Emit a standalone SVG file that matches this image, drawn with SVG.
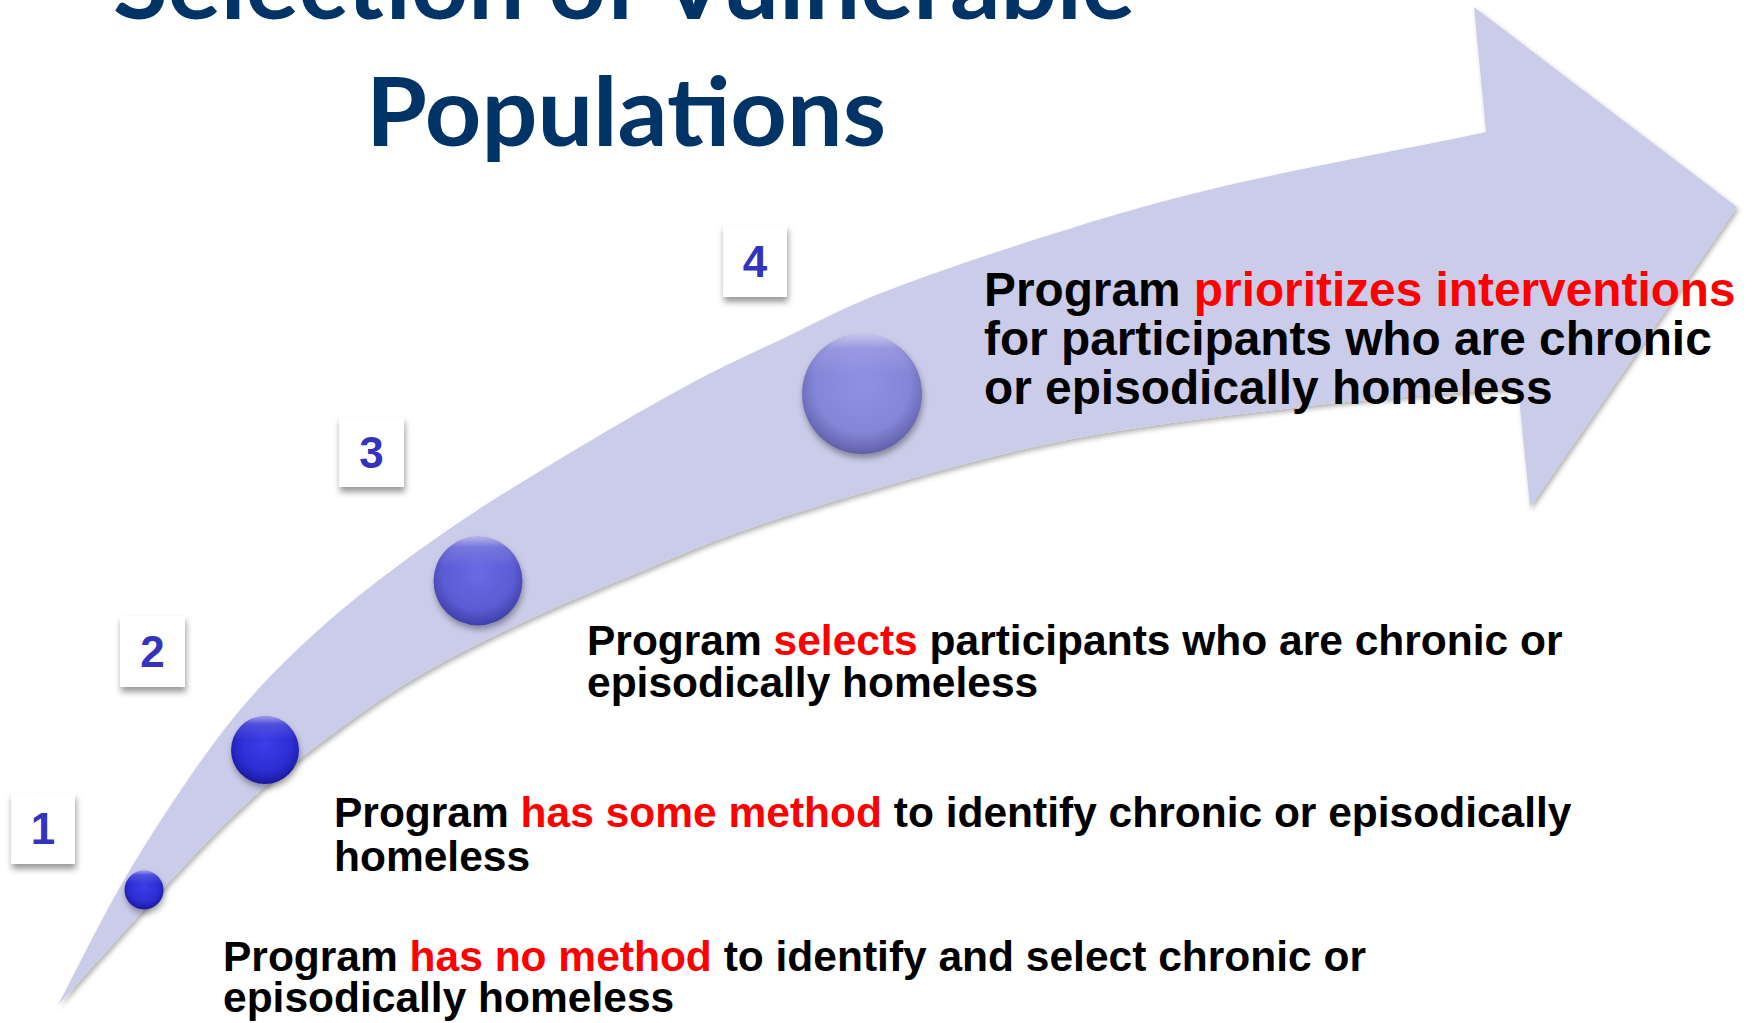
<svg xmlns="http://www.w3.org/2000/svg" width="1754" height="1023" viewBox="0 0 1754 1023">
<defs>
<style>
.title{font-family:Lato,"Open Sans","Liberation Sans",sans-serif;font-weight:700;fill:#003366;font-size:96px}
.body{font-family:"Liberation Sans",Arial,sans-serif;font-weight:700;fill:#000;font-size:42.5px}
.big{font-size:47.8px}
.red{fill:#FF0000}
.num{font-family:"Liberation Sans",Arial,sans-serif;font-weight:700;fill:#3333BB;font-size:44px;text-anchor:middle}
.box{fill:#FFFFFF}
</style>
<filter id="arrowShadow" x="-5%" y="-5%" width="110%" height="115%">
<feDropShadow dx="2" dy="3" stdDeviation="2.5" flood-color="#000" flood-opacity="0.3"/>
</filter>
<filter id="boxShadow" x="-20%" y="-20%" width="140%" height="150%">
<feDropShadow dx="1" dy="5" stdDeviation="3" flood-color="#000" flood-opacity="0.4"/>
</filter>
<filter id="ballShadow" x="-30%" y="-30%" width="160%" height="170%">
<feDropShadow dx="1" dy="4" stdDeviation="3" flood-color="#000" flood-opacity="0.35"/>
</filter>
<radialGradient id="gBlue" cx="50%" cy="42%" r="58%">
<stop offset="0" stop-color="#3E3EEA"/>
<stop offset="0.7" stop-color="#2C2CD2"/>
<stop offset="1" stop-color="#1A1A9A"/>
</radialGradient>
<radialGradient id="gMid" cx="50%" cy="42%" r="58%">
<stop offset="0" stop-color="#6A6AE4"/>
<stop offset="0.7" stop-color="#5B5BD4"/>
<stop offset="1" stop-color="#3F3FA6"/>
</radialGradient>
<radialGradient id="gLight" cx="50%" cy="42%" r="58%">
<stop offset="0" stop-color="#9090E6"/>
<stop offset="0.7" stop-color="#8484D8"/>
<stop offset="1" stop-color="#6060A8"/>
</radialGradient>
<linearGradient id="gGloss" x1="0" y1="0" x2="0" y2="1">
<stop offset="0" stop-color="#FFFFFF" stop-opacity="0.55"/>
<stop offset="0.12" stop-color="#FFFFFF" stop-opacity="0.15"/>
<stop offset="0.35" stop-color="#FFFFFF" stop-opacity="0"/>
</linearGradient>
</defs>
<rect width="1754" height="1023" fill="#FFFFFF"/>

<g id="title">
<text class="title" x="113" y="19" textLength="1022" lengthAdjust="spacingAndGlyphs">Selection of Vulnerable</text>
<text class="title" x="366" y="146" textLength="520" lengthAdjust="spacingAndGlyphs">Populations</text>
</g>

<g id="connectors">
<path id="arrow" filter="url(#arrowShadow)" fill="#CBCCEA" d="M58,1005 C78.7,965.7 99.2,923.3 120,887 C140.8,850.7 163,816.5 183,787 C203,757.5 220.5,733.3 240,710 C259.5,686.7 278.3,667.5 300,647 C321.7,626.5 342.2,608.7 370,587 C397.8,565.3 432,540.3 467,517 C502,493.7 542.8,469.2 580,447 C617.2,424.8 656.7,401.8 690,384 C723.3,366.2 742.8,357.2 780,340 C817.2,322.8 846.3,304.8 913,281 C979.7,257.2 1084.5,221.8 1180,197 C1275.5,172.2 1384,153.7 1486,132 L1474,7 L1737,207 L1530,507 L1518,388 C1445.3,394.3 1378.5,397.7 1300,407 C1221.5,416.3 1133.7,425.5 1047,444 C960.3,462.5 851.2,495.3 780,518 C708.8,540.7 666.7,560.8 620,580 C573.3,599.2 536.7,615.2 500,633 C463.3,650.8 432.2,667 400,687 C367.8,707 332,734.2 307,753 C282,771.8 270.7,781 250,800 C229.3,819 215,832.8 183,867 C151,901.2 99.7,959 58,1005 Z"/>
</g>

<g id="step1">
<rect class="box" x="11" y="793" width="64" height="71" filter="url(#boxShadow)"/>
<text class="num" x="43" y="844">1</text>
<g filter="url(#ballShadow)"><circle cx="144" cy="890" r="19.5" fill="url(#gBlue)"/></g>
<circle cx="144" cy="890" r="19.5" fill="url(#gGloss)"/>
<text class="body" x="223" y="971">Program <tspan class="red">has no method</tspan> to identify and select chronic or</text>
<text class="body" x="223" y="1012">episodically homeless</text>
</g>

<g id="step2">
<rect class="box" x="120" y="616" width="65" height="71" filter="url(#boxShadow)"/>
<text class="num" x="152.5" y="667">2</text>
<g filter="url(#ballShadow)"><circle cx="265" cy="750" r="34" fill="url(#gBlue)"/></g>
<circle cx="265" cy="750" r="34" fill="url(#gGloss)"/>
<text class="body" x="334" y="827">Program <tspan class="red">has some method</tspan> to identify chronic or episodically</text>
<text class="body" x="334" y="871">homeless</text>
</g>

<g id="step3">
<rect class="box" x="339" y="417" width="65" height="70" filter="url(#boxShadow)"/>
<text class="num" x="371.5" y="468">3</text>
<g filter="url(#ballShadow)"><circle cx="478" cy="581" r="44.5" fill="url(#gMid)"/></g>
<circle cx="478" cy="581" r="44.5" fill="url(#gGloss)"/>
<text class="body" x="587" y="655">Program <tspan class="red">selects</tspan> participants who are chronic or</text>
<text class="body" x="587" y="697">episodically homeless</text>
</g>

<g id="step4">
<rect class="box" x="723" y="225" width="64" height="72" filter="url(#boxShadow)"/>
<text class="num" x="755" y="277">4</text>
<g filter="url(#ballShadow)"><circle cx="862" cy="394" r="60" fill="url(#gLight)"/></g>
<circle cx="862" cy="394" r="60" fill="url(#gGloss)"/>
<text class="body big" x="984" y="306">Program <tspan class="red">prioritizes interventions</tspan></text>
<text class="body big" x="984" y="355">for participants who are chronic</text>
<text class="body big" x="984" y="404">or episodically homeless</text>
</g>
</svg>
